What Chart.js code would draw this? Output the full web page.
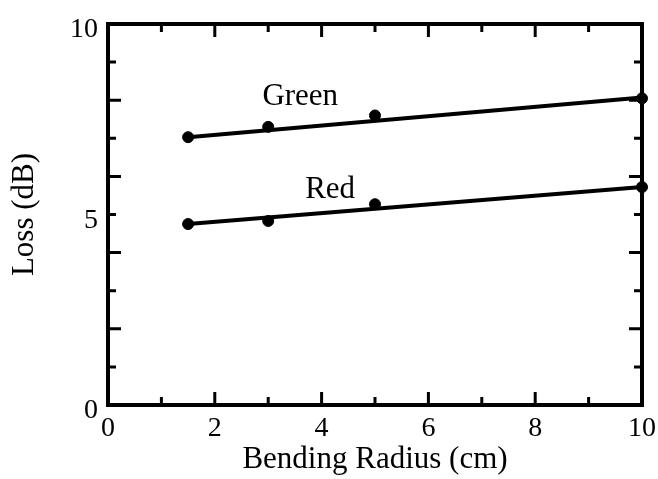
<!DOCTYPE html>
<html>
<head>
<meta charset="utf-8">
<script src="https://cdn.jsdelivr.net/npm/chart.js@4/dist/chart.umd.min.js"></script>
<style>
  html, body { margin: 0; padding: 0; background: #fff; }
  #wrap { width: 658px; height: 479px; }
</style>
</head>
<body>
<div id="wrap"><canvas id="lossChart" width="658" height="479"></canvas></div>
<script>
// bending radius (cm)
var radius = [1.5, 3, 5, 10];
// measured loss (dB)
var greenLoss = [7.03, 7.3, 7.6, 8.05];
var redLoss = [4.75, 4.83, 5.27, 5.72];
// straight fit lines, read at both ends
var fitX = [1.5, 10];
var greenFit = [7.03, 8.07];
var redFit = [4.75, 5.72];
// tick labels that are shown
var xLabels = [0, 2, 4, 6, 8, 10];
var yLabels = [0, 5, 10];

function pts(xs, ys) {
  return xs.map(function (x, i) { return { x: x, y: ys[i] }; });
}

var serif = "'Liberation Serif', 'DejaVu Serif', serif";

// frame and inward ticks on all four sides
var frameTicks = {
  id: 'frameTicks',
  afterDatasetsDraw: function (chart) {
    var ctx = chart.ctx;
    var a = chart.chartArea;
    var xs = chart.scales.x, ys = chart.scales.y;
    ctx.save();
    ctx.strokeStyle = '#000';
    ctx.lineWidth = 3;
    for (var v = 0; v <= 10; v++) {
      var len = v % 2 == 0 ? 13 : 8;
      var px = xs.getPixelForValue(v);
      var py = ys.getPixelForValue(v);
      ctx.beginPath();
      ctx.moveTo(px, a.bottom); ctx.lineTo(px, a.bottom - len);
      ctx.moveTo(px, a.top); ctx.lineTo(px, a.top + len);
      ctx.moveTo(a.left, py); ctx.lineTo(a.left + len, py);
      ctx.moveTo(a.right, py); ctx.lineTo(a.right - len, py);
      ctx.stroke();
    }
    ctx.lineWidth = 4;
    ctx.strokeRect(a.left, a.top, a.right - a.left, a.bottom - a.top);

    // series names
    ctx.fillStyle = '#000';
    ctx.font = '31px ' + serif;
    ctx.textAlign = 'center';
    ctx.textBaseline = 'middle';
    ctx.fillText('Green', xs.getPixelForValue(3.6), ys.getPixelForValue(8.08));
    ctx.fillText('Red', xs.getPixelForValue(4.16), ys.getPixelForValue(5.64));
    ctx.restore();
  }
};

var ctx = document.getElementById('lossChart').getContext('2d');
var chart = new Chart(ctx, {
  type: 'scatter',
  data: {
    datasets: [
      { type: 'line', data: pts(fitX, greenFit), borderColor: '#000', borderWidth: 4, pointRadius: 0, clip: false },
      { type: 'line', data: pts(fitX, redFit), borderColor: '#000', borderWidth: 4, pointRadius: 0, clip: false },
      { data: pts(radius, greenLoss), backgroundColor: '#000', borderColor: '#000', pointRadius: 5.5, clip: false },
      { data: pts(radius, redLoss), backgroundColor: '#000', borderColor: '#000', pointRadius: 5.5, clip: false }
    ]
  },
  options: {
    responsive: false,
    animation: false,
    layout: { padding: { top: 24, right: 16, left: 0, bottom: 0 } },
    plugins: { legend: { display: false }, tooltip: { enabled: false } },
    scales: {
      x: {
        type: 'linear', min: 0, max: 10,
        grid: { display: false, drawTicks: false },
        border: { display: false },
        ticks: {
          stepSize: 1, autoSkip: false, maxRotation: 0, padding: 7,
          color: '#000', font: { family: serif, size: 28 },
          callback: function (v) { return xLabels.indexOf(v) >= 0 ? String(v) : ''; }
        },
        title: {
          display: true, text: 'Bending Radius (cm)', color: '#000',
          font: { family: serif, size: 31 }, padding: { top: 0, bottom: 1 }
        },
        afterFit: function (s) { s.height = 74; s.paddingLeft = 0; s.paddingRight = 0; }
      },
      y: {
        type: 'linear', min: 0, max: 10,
        grid: { display: false, drawTicks: false },
        border: { display: false },
        ticks: {
          stepSize: 1, autoSkip: false, padding: 10, labelOffset: 6,
          color: '#000', font: { family: serif, size: 28 },
          callback: function (v) { return yLabels.indexOf(v) >= 0 ? String(v) : ''; }
        },
        title: {
          display: true, text: 'Loss (dB)', color: '#000',
          font: { family: serif, size: 31 }, padding: { top: 6, bottom: 0 }
        },
        afterFit: function (s) { s.width = 108; s.paddingTop = 0; s.paddingBottom = 0; }
      }
    }
  },
  plugins: [frameTicks]
});
</script>
</body>
</html>
